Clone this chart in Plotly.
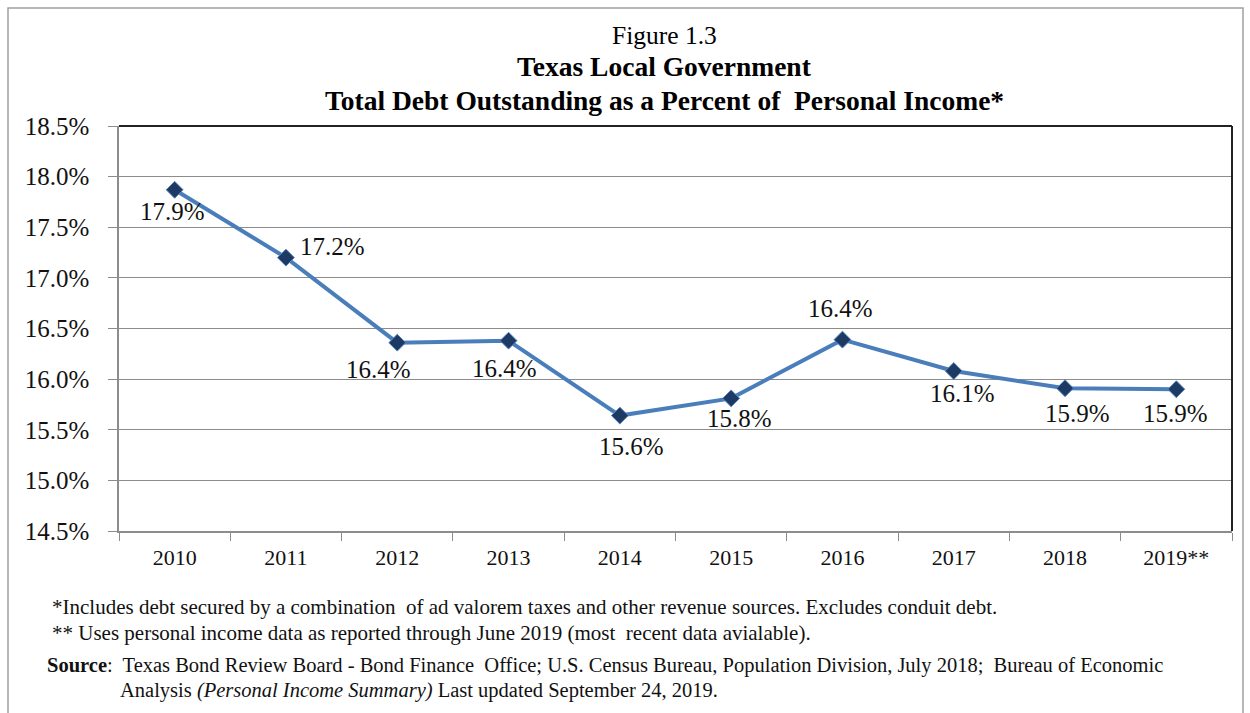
import plotly.graph_objects as go

# Fiscal years and debt-to-income ratio (percent)
years = ["2010", "2011", "2012", "2013", "2014", "2015", "2016", "2017", "2018", "2019**"]
debt_pct = [17.87, 17.20, 16.36, 16.38, 15.64, 15.81, 16.39, 16.08, 15.91, 15.90]

# Label offsets (pixels) for each data label
label_dx = [-2, 47, -19, -4, 12, 8, -2, 9, 12, -1]
label_dy = [-22, 11, -27, -28, -31, -20, 31, -22, -25, -24]

title_lines = [
    "Figure 1.3",
    "<b>Texas Local Government</b>",
    "<b>Total Debt Outstanding as a Percent of  Personal Income*</b>",
]
notes = [
    "*Includes debt secured by a combination  of ad valorem taxes and other revenue sources. Excludes conduit debt.",
    "** Uses personal income data as reported through June 2019 (most  recent data avialable).",
]
source_lines = [
    "<b>Source</b>:  Texas Bond Review Board - Bond Finance  Office; U.S. Census Bureau, Population Division, July 2018;  Bureau of Economic",
    "Analysis <i>(Personal Income Summary)</i> Last updated September 24, 2019.",
]

W, H = 1250, 713
L, R, T, B = 119, 1232, 126, 531
FONT = "Liberation Serif"
LINE_BLUE = "#4a7ebb"
MARKER_NAVY = "#1c3a64"
GRID = "#8c8c8c"


def px_x(px):
    return (px - L) / (R - L)


def px_y(py):
    return (B - py) / (B - T)


fig = go.Figure()
fig.add_trace(go.Scatter(
    x=years, y=debt_pct, mode="lines+markers",
    line=dict(color=LINE_BLUE, width=4),
    marker=dict(symbol="diamond", size=13, color=MARKER_NAVY,
                line=dict(color="#5b86c0", width=1)),
    hoverinfo="x+y", showlegend=False,
))

annotations = []
# category index is used as x so numeric-looking year names stay categorical
for i, (v, dx, dy) in enumerate(zip(debt_pct, label_dx, label_dy)):
    annotations.append(dict(
        x=i, y=v, xref="x", yref="y", text=f"{v:.1f}%", showarrow=False,
        xshift=dx, yshift=dy, font=dict(family=FONT, size=25, color="#111"),
    ))

title_y = [36, 66, 100]
title_sz = [25.5, 27.5, 27.5]
for txt, py, sz in zip(title_lines, title_y, title_sz):
    annotations.append(dict(
        x=px_x(664), y=px_y(py), xref="paper", yref="paper", text=txt,
        showarrow=False, xanchor="center", yanchor="middle",
        font=dict(family=FONT, size=sz, color="#000"),
    ))

for txt, py in zip(notes, [607, 633]):
    annotations.append(dict(
        x=px_x(50), y=px_y(py), xref="paper", yref="paper", text=txt,
        showarrow=False, xanchor="left", yanchor="middle",
        font=dict(family=FONT, size=21, color="#111"),
    ))
for txt, px, py in zip(source_lines, [45, 118], [665, 690]):
    annotations.append(dict(
        x=px_x(px), y=px_y(py), xref="paper", yref="paper", text=txt,
        showarrow=False, xanchor="left", yanchor="middle",
        font=dict(family=FONT, size=20.5, color="#111"),
    ))

shapes = [
    # outer frame of the figure
    dict(type="rect", xref="paper", yref="paper",
         x0=px_x(8), x1=px_x(1243), y0=px_y(730), y1=px_y(8),
         line=dict(color="#a0a0a0", width=1.5), layer="below"),
    # plot-area top and right edges
    dict(type="line", xref="paper", yref="paper", x0=0, x1=1, y0=1, y1=1,
         line=dict(color="#222", width=2)),
    dict(type="line", xref="paper", yref="paper", x0=1, x1=1, y0=0, y1=1,
         line=dict(color="#222", width=2)),
]

fig.update_layout(
    width=W, height=H,
    margin=dict(l=L, r=W - R, t=T, b=H - B),
    paper_bgcolor="white", plot_bgcolor="white",
    font=dict(family=FONT, color="#111"),
    annotations=annotations, shapes=shapes,
    xaxis=dict(
        type="category", range=[-0.5, 9.5], tickson="boundaries",
        ticks="outside", ticklen=8, tickcolor=GRID, tickwidth=1,
        showline=True, linecolor=GRID, linewidth=1.5,
        showgrid=False, zeroline=False, ticklabelstandoff=6,
        tickfont=dict(family=FONT, size=22, color="#111"),
    ),
    yaxis=dict(
        range=[14.5, 18.5], tick0=14.5, dtick=0.5,
        tickformat=".1f", ticksuffix="%",
        ticks="outside", ticklen=9, tickcolor=GRID, tickwidth=1,
        showline=True, linecolor=GRID, linewidth=1.5,
        showgrid=True, gridcolor=GRID, gridwidth=1, zeroline=False,
        ticklabelstandoff=14,
        tickfont=dict(family=FONT, size=25, color="#111"),
    ),
)

fig.write_html("out.html")
